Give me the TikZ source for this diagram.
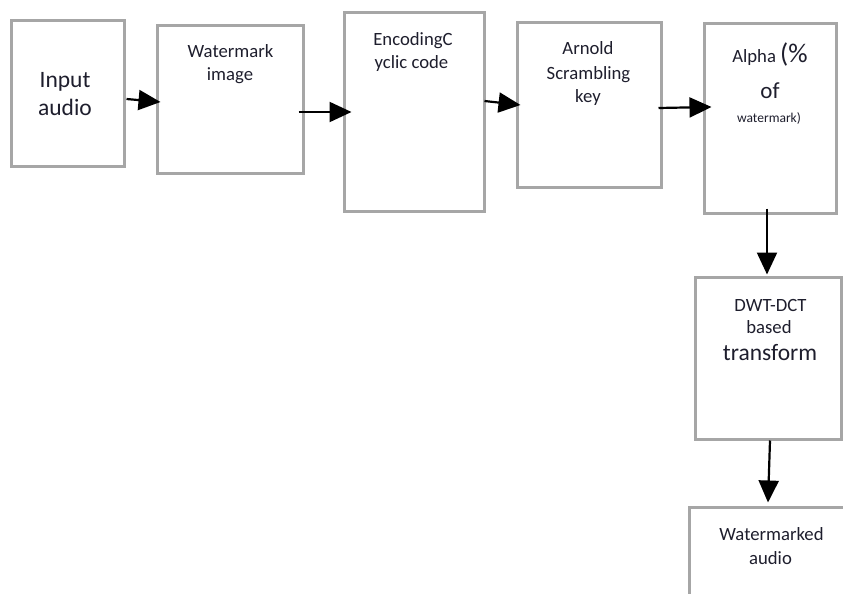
\documentclass[tikz,border=0pt]{standalone}
\usepackage{fontspec}
\setmainfont{Carlito}
\usetikzlibrary{arrows.meta,calc}
\definecolor{boxgray}{RGB}{166,166,166}
\definecolor{txtcol}{RGB}{30,30,45}
\tikzset{
  box/.style={draw=boxgray, line width=3pt, fill=white, rectangle, inner sep=0pt},
  txt/.style={text=txtcol, inner sep=0pt, anchor=base, font=\fontsize{18.7}{22}\selectfont},
  bigtxt/.style={txt, font=\fontsize{23.5}{27}\selectfont},
  arr/.style={draw=black, line width=2.2pt, -{Triangle[length=22pt,width=20pt]}}
}
\begin{document}
\begin{tikzpicture}[x=1pt,y=-1pt]
\useasboundingbox (0,0) rectangle (843,594);
% boxes
\node[box, minimum width=113pt, minimum height=145pt] (b1) at (67.5,93.5) {};
\node[box, minimum width=146pt, minimum height=147pt] (b2) at (230,99.5) {};
\node[box, minimum width=140pt, minimum height=198pt] (b3) at (414,112) {};
\node[box, minimum width=144pt, minimum height=164pt] (b4) at (589,105) {};
\node[box, minimum width=132pt, minimum height=189pt] (b5) at (770,118.5) {};
\node[box, minimum width=146pt, minimum height=162pt] (b6) at (768,358) {};
\node[box, minimum width=161pt, minimum height=103pt] (b7) at (769.5,558.5) {};
% texts
\node[bigtxt] (t1a) at (65,87) {Input};
\node[bigtxt] (t1b) at (65,115) {audio};
\node[txt] (t2a) at (230.5,58) {Watermark};
\node[txt] (t2b) at (230,81) {image};
\node[txt] (t3a) at (413,46) {EncodingC};
\node[txt] (t3b) at (411.5,68) {yclic code};
\node[txt] (t4a) at (588,55) {Arnold};
\node[txt] (t4b) at (588.5,80) {Scrambling};
\node[txt] (t4c) at (588,102) {key};
\node[txt] (t5a) at (770,63) {Alpha {\fontsize{27}{27}\selectfont (\%}};
\node[txt, font=\fontsize{23}{27}\selectfont] (t5b) at (770,98) {of};
\node[txt, font=\fontsize{13.5}{15}\selectfont] (t5c) at (769,122) {watermark)};
\node[txt] (t6a) at (770.5,311) {DWT-DCT};
\node[txt] (t6b) at (769,333) {based};
\node[bigtxt] (t6c) at (770,360) {transform};
\node[txt] (t7a) at (771.5,540) {Watermarked};
\node[txt] (t7b) at (770.5,564) {audio};
% arrows
\draw[arr] ($(b1.east)+(1,5.5)$) -- ($(b2.west)+(5,2.5)$);
\draw[arr] ($(b2.east)+(-6,12.5)$) -- ($(b3.west)+(9,0)$);
\draw[arr] ($(b3.east)+(-1,-11)$) -- ($(b4.west)+(5,0)$);
\draw[arr] ($(b4.east)+(-4,3)$) -- ($(b5.west)+(9,-11.5)$);
\draw[arr] ($(b5.south)+(-3,-6)$) -- ($(b6.north)+(-1,-1)$);
\draw[arr] ($(b6.south)+(2,0)$) -- ($(b7.north)+(-1.5,-3)$);
\end{tikzpicture}
\end{document}
